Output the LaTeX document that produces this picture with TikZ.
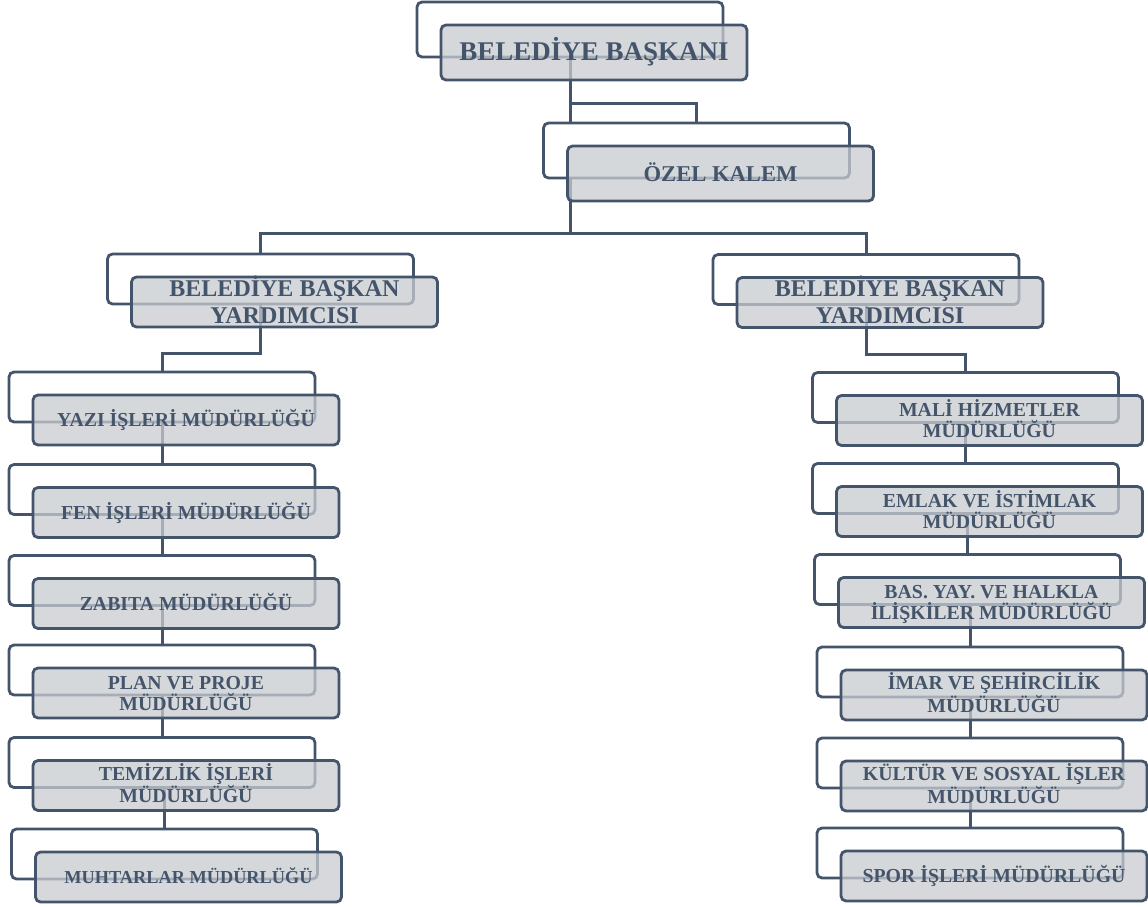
\documentclass[tikz,border=0pt]{standalone}
\usepackage{fontspec}
\setmainfont{Liberation Serif}
\definecolor{ink}{RGB}{68,84,106}
\definecolor{boxfill}{RGB}{200,203,208}
\pgfdeclarelayer{bg}
\pgfsetlayers{bg,main}
\newcommand\orgunit[5]{%
  \node[backframe,#4] (#1-b) at ({#2-24},{#3-23}) {};
  \node[card,#4] (#1) at (#2,#3) {#5};}
\begin{document}
\begin{tikzpicture}[x=1pt,y=-1pt,
  base/.style={rounded corners=5pt, line width=2.8pt, draw=ink, inner sep=0pt, outer sep=0pt,
    minimum width=306pt, minimum height=50pt},
  backframe/.style={base, fill=white},
  card/.style={base, fill=boxfill, fill opacity=0.75, draw opacity=1, text opacity=1, text=ink, align=center},
  wire/.style={draw=ink, line width=3pt},
  one/.style={font=\bfseries\fontsize{19.8}{21}\selectfont, text height=13.1pt, text depth=0pt},
  two/.style={font=\bfseries\fontsize{19.8}{21}\selectfont, text height=34.1pt, text depth=0pt},
  small/.style={font=\bfseries\fontsize{18.3}{20}\selectfont, text height=12.1pt, text depth=0pt},
  bby/.style={font=\bfseries\fontsize{24}{27}\selectfont, text height=42.9pt, text depth=0pt},
  title/.style={minimum height=55pt, font=\bfseries\fontsize{27}{30}\selectfont, text height=17.9pt, text depth=2pt},
  okst/.style={minimum height=55pt, font=\bfseries\fontsize{22.6}{25}\selectfont, text height=15pt, text depth=0pt}
]
\useasboundingbox (0,0) rectangle (1148,907);
\coordinate (asst) at (0,103);
\coordinate (bar) at (0,233);
\coordinate (lknee) at (0,353);
\coordinate (rknee) at (0,354);

\orgunit{bb}{594}{52.5}{title}{BELEDİYE BAŞKANI}
\orgunit{ok}{720.5}{173.5}{okst}{ÖZEL KALEM}
\orgunit{lbby}{284.5}{302}{bby}{BELEDİYE BAŞKAN\\YARDIMCISI}
\orgunit{rbby}{890}{302.5}{bby}{BELEDİYE BAŞKAN\\YARDIMCISI}

\orgunit{yazi}{186}{420}{one}{YAZI İŞLERİ MÜDÜRLÜĞÜ}
\orgunit{fen}{186}{512.5}{one}{FEN İŞLERİ MÜDÜRLÜĞÜ}
\orgunit{zabita}{186}{603.5}{one}{ZABITA MÜDÜRLÜĞÜ}
\orgunit{plan}{186}{693}{two}{PLAN VE PROJE\\MÜDÜRLÜĞÜ}
\orgunit{temiz}{186}{785.5}{two}{TEMİZLİK İŞLERİ\\MÜDÜRLÜĞÜ}
\orgunit{muht}{188.5}{877}{small}{MUHTARLAR MÜDÜRLÜĞÜ}

\orgunit{mali}{989.5}{420.5}{two}{MALİ HİZMETLER\\MÜDÜRLÜĞÜ}
\orgunit{emlak}{989.5}{511.5}{two}{EMLAK VE İSTİMLAK\\MÜDÜRLÜĞÜ}
\orgunit{bas}{991.5}{602.5}{two}{BAS. YAY. VE HALKLA\\İLİŞKİLER MÜDÜRLÜĞÜ}
\orgunit{imar}{994}{695}{two}{İMAR VE ŞEHİRCİLİK\\MÜDÜRLÜĞÜ}
\orgunit{kultur}{994}{786}{two}{KÜLTÜR VE SOSYAL İŞLER\\MÜDÜRLÜĞÜ}
\orgunit{spor}{994}{876}{one}{SPOR İŞLERİ MÜDÜRLÜĞÜ}

\begin{pgfonlayer}{bg}
\draw[wire, line width=3pt] (bb-b.center) -- (bb-b.center |- bar);
\draw[wire, line width=3pt] (bb-b.center |- asst) -| (ok-b.north);
\draw[wire, line width=3pt] (lbby-b.north) -- (lbby-b.north |- bar) -- (rbby-b.north |- bar) -- (rbby-b.north);
\draw[wire, line width=3pt] (lbby-b.center) -- (lbby-b.center |- lknee) -| (yazi-b.north);
\draw[wire, line width=3pt] (rbby-b.center) -- (rbby-b.center |- rknee) -| (mali-b.north);
\draw[wire, line width=3pt] (fen-b.north) -- (fen-b.north |- yazi-b.center);
\draw[wire, line width=3pt] (zabita-b.north) -- (zabita-b.north |- fen-b.center);
\draw[wire, line width=3pt] (plan-b.north) -- (plan-b.north |- zabita-b.center);
\draw[wire, line width=3pt] (temiz-b.north) -- (temiz-b.north |- plan-b.center);
\draw[wire, line width=3pt] (muht-b.north) -- (muht-b.north |- temiz-b.center);
\draw[wire, line width=3pt] (emlak-b.north) -- (emlak-b.north |- mali-b.center);
\draw[wire, line width=3pt] (bas-b.north) -- (bas-b.north |- emlak-b.center);
\draw[wire, line width=3pt] (imar-b.north) -- (imar-b.north |- bas-b.center);
\draw[wire, line width=3pt] (kultur-b.north) -- (kultur-b.north |- imar-b.center);
\draw[wire, line width=3pt] (spor-b.north) -- (spor-b.north |- kultur-b.center);
\end{pgfonlayer}
\end{tikzpicture}
\end{document}
